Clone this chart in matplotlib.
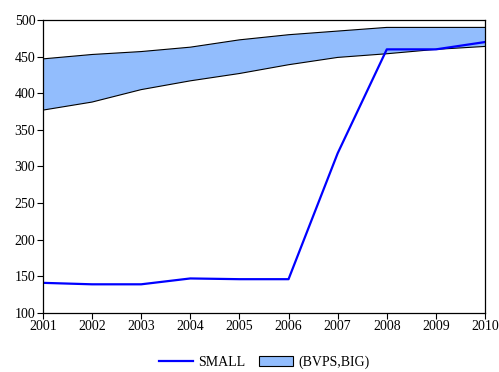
import matplotlib
matplotlib.use("Agg")
import matplotlib.pyplot as plt
from matplotlib.patches import Patch
from matplotlib.lines import Line2D

plt.rcParams['font.family'] = ['Liberation Serif', 'DejaVu Serif']

years = [2001, 2002, 2003, 2004, 2005, 2006, 2007, 2008, 2009, 2010]
small = [141, 139, 139, 147, 146, 146, 318, 460, 460, 470]
big_upper = [447, 453, 457, 463, 473, 480, 485, 490, 490, 490]
big_lower = [377, 388, 405, 417, 427, 439, 449, 454, 460, 464]

fig = plt.figure(figsize=(4.99, 3.72), dpi=100)
ax = fig.add_axes([0.086, 0.159, 0.886, 0.787])

fill_color = '#92bdfd'
ax.fill_between(years, big_lower, big_upper, facecolor=fill_color, edgecolor='none')
ax.plot(years, big_upper, color='black', lw=0.8)
ax.plot(years, big_lower, color='black', lw=0.8)
ax.plot(years, small, color='#0000ff', lw=1.6)

ax.set_xlim(2001, 2010)
ax.set_ylim(100, 500)
ax.set_xticks(years)
ax.set_yticks(range(100, 501, 50))
ax.tick_params(direction='out', length=4, width=0.8, labelsize=10, pad=1.5)
for s in ax.spines.values():
    s.set_linewidth(0.9)

handles = [Line2D([], [], color='#0000ff', lw=1.6),
           Patch(facecolor=fill_color, edgecolor='black', lw=0.8)]
fig.legend(handles, ['SMALL', '(BVPS,BIG)'], loc='lower center',
           bbox_to_anchor=(0.53, -0.025), ncol=2, frameon=False, fontsize=10,
           handlelength=2.4, columnspacing=1.0, handletextpad=0.4)

fig.savefig('out.png', dpi=100)
